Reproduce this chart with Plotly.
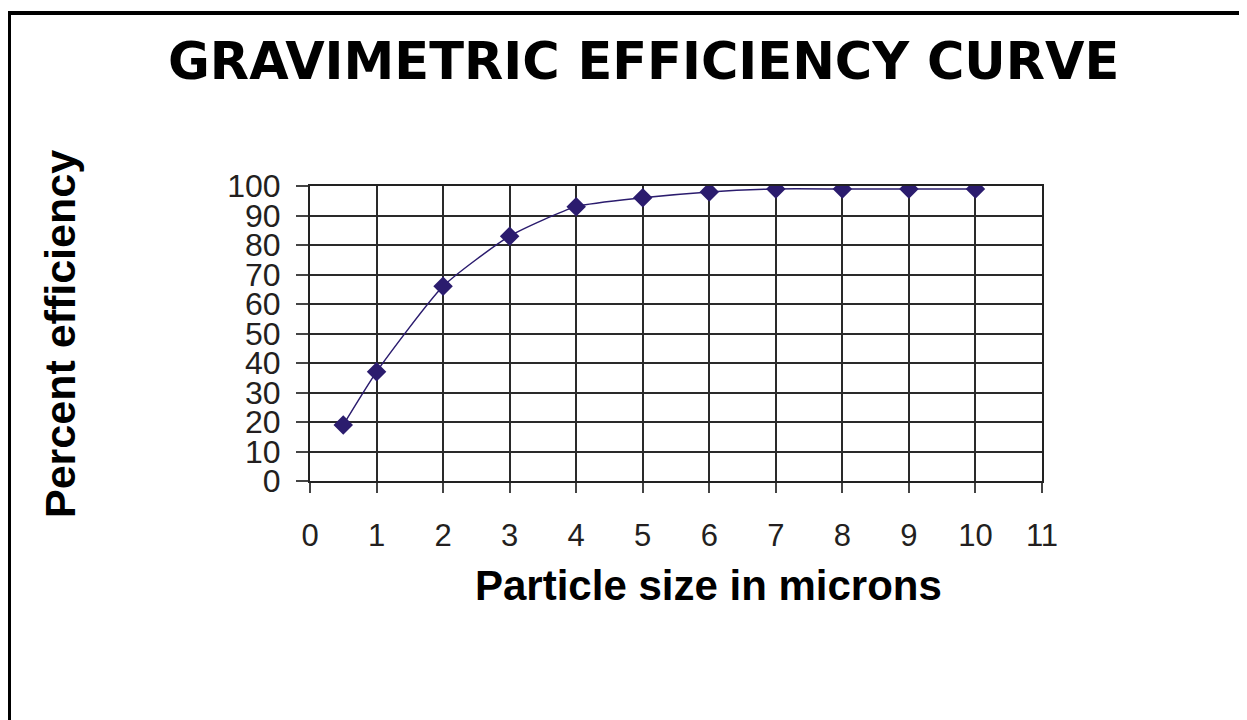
import plotly.graph_objects as go

# Data
particle_size = [0.5, 1, 2, 3, 4, 5, 6, 7, 8, 9, 10]
efficiency = [19, 37, 66, 83, 93, 96, 98, 99, 99, 99, 99]
x_ticks = list(range(0, 12))
y_ticks = list(range(0, 101, 10))

title_text = "GRAVIMETRIC EFFICIENCY CURVE"
x_title = "Particle size in microns"
y_title = "Percent efficiency"

OFF = 8  # default body margin of the page
W, H = 1247 - OFF, 720 - OFF
L, R, T, B = 310 - OFF, 1042 - OFF, 186 - OFF, 481 - OFF  # plot area in figure pixels

def px(xp):
    return (xp - OFF - L) / (R - L)

def py(yp):
    return (B - (yp - OFF)) / (B - T)

navy = "#2B1C6E"

fig = go.Figure()
fig.add_trace(go.Scatter(
    x=particle_size, y=efficiency,
    mode="lines+markers",
    line=dict(color=navy, width=1.5, shape="spline", smoothing=0.55),
    marker=dict(symbol="diamond", size=15, color=navy),
    showlegend=False,
))

axis_font = dict(family="Liberation Sans, Arial, sans-serif", size=31, color="#231f20")

fig.update_layout(
    width=W, height=H,
    margin=dict(l=L, r=W - R, t=T, b=H - B, pad=0),
    paper_bgcolor="white", plot_bgcolor="white",
    xaxis=dict(
        range=[0, 11], tickmode="array", tickvals=x_ticks,
        ticktext=[str(v) for v in x_ticks],
        showgrid=True, gridcolor="#2a2a2a", gridwidth=1.5,
        zeroline=False, showline=True, linecolor="#222222", linewidth=2, mirror=True,
        ticks="outside", ticklen=10, tickcolor="#444444", tickwidth=1.5,
        tickfont=axis_font, ticklabelstandoff=16,
    ),
    yaxis=dict(
        range=[0, 100], tickmode="array", tickvals=y_ticks,
        ticktext=[str(v) for v in y_ticks],
        showgrid=True, gridcolor="#2a2a2a", gridwidth=1.5,
        zeroline=False, showline=True, linecolor="#222222", linewidth=2, mirror=True,
        ticks="outside", ticklen=12, tickcolor="#444444", tickwidth=1.5,
        tickfont=dict(family="Liberation Sans, Arial, sans-serif", size=32, color="#231f20"),
        ticklabelstandoff=9,
    ),
    annotations=[
        dict(text=title_text, xref="paper", yref="paper", x=px(643), y=py(61),
             xanchor="center", yanchor="middle", showarrow=False,
             font=dict(family="DejaVu Sans, Verdana, sans-serif", size=51, color="black", weight="bold")),
        dict(text=x_title, xref="paper", yref="paper", x=px(708.5), y=py(585),
             xanchor="center", yanchor="middle", showarrow=False,
             font=dict(family="Liberation Sans, Arial, sans-serif", size=42, color="black", weight="bold")),
        dict(text=y_title, xref="paper", yref="paper", x=px(60), y=py(334),
             xanchor="center", yanchor="middle", showarrow=False, textangle=-90,
             font=dict(family="Liberation Sans, Arial, sans-serif", size=43, color="black", weight="bold")),
    ],
    shapes=[
        dict(type="line", xref="paper", yref="paper", x0=px(7), x1=px(1260), y0=py(13), y1=py(13),
             line=dict(color="black", width=4)),
        dict(type="line", xref="paper", yref="paper", x0=px(9), x1=px(9), y0=py(11), y1=py(730),
             line=dict(color="black", width=4)),
    ],
)

fig.write_html("out.html")
